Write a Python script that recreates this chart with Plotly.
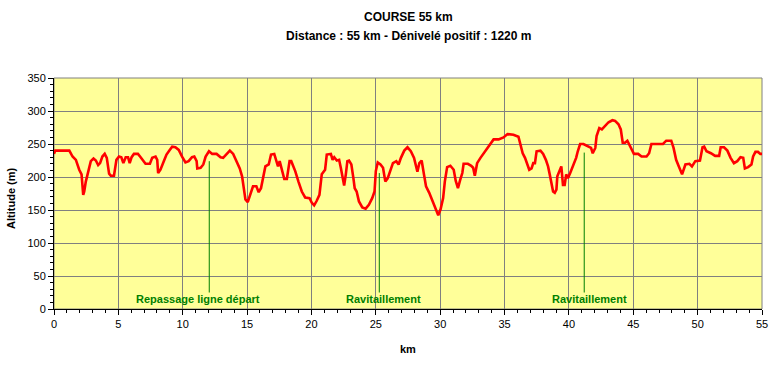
import plotly.graph_objects as go

# ---- data ----
km = [
    0, 0.1, 0.33, 1.19, 1.44, 1.70, 1.96, 2.14, 2.27, 2.35,
    2.47, 2.65, 2.86, 3.07, 3.25, 3.43, 3.58, 3.76, 3.94, 4.10,
    4.28, 4.41, 4.66, 4.85, 5.05, 5.23, 5.39, 5.57, 5.75, 5.88,
    6.03, 6.21, 6.52, 6.73, 7.11, 7.45, 7.63, 7.89, 8.02, 8.09,
    8.27, 8.53, 8.74, 8.99, 9.18, 9.43, 9.69, 9.95, 10.21, 10.46,
    10.72, 10.90,
    11.08, 11.13, 11.39, 11.60, 11.78, 12.04, 12.29, 12.63, 12.94, 13.14,
    13.40, 13.66, 13.92, 14.18, 14.43, 14.61, 14.74, 14.87, 15.05, 15.26,
    15.46, 15.72, 15.90, 16.08, 16.24, 16.42, 16.68, 16.86, 17.11, 17.27,
    17.40, 17.53, 17.71, 17.89, 18.09, 18.30, 18.43, 18.74, 18.99, 19.25,
    19.51, 19.85, 20.03, 20.21, 20.41, 20.62, 20.80, 21.06, 21.19, 21.39,
    21.51, 21.64, 21.77, 21.97, 22.15, 22.28, 22.41, 22.54, 22.67, 22.79,
    22.92, 23.10, 23.26, 23.36, 23.51, 23.69, 23.95, 24.21, 24.46, 24.72,
    24.90, 25.00, 25.15, 25.36, 25.56, 25.74, 25.92, 26.13, 26.33, 26.59,
    26.77, 26.95, 27.21, 27.46, 27.72, 27.97, 28.13, 28.23, 28.38, 28.56,
    28.74, 28.90, 29.15, 29.41, 29.67, 29.85, 30.03, 30.23, 30.36, 30.54,
    30.79, 31.05, 31.21, 31.38, 31.56, 31.72, 31.82, 32.15, 32.41,
    32.56, 32.69, 32.87, 33.13, 33.38, 33.64, 33.90, 34.15, 34.54, 34.92,
    35.23, 35.69, 36.08, 36.26, 36.41, 36.59, 36.77, 36.92, 37.10, 37.23,
    37.36, 37.49, 37.79, 38.00, 38.21, 38.38, 38.51, 38.64, 38.77, 38.90,
    39.03, 39.10, 39.28, 39.41, 39.54, 39.67, 39.79, 39.92, 40.10, 40.31,
    40.56, 40.69, 40.87, 41.13, 41.46, 41.72, 41.85, 42.05, 42.15, 42.36,
    42.56, 42.82, 43.08, 43.38,
    43.59, 43.85, 44.03, 44.18, 44.36, 44.54, 44.69, 44.87, 45.05, 45.38,
    45.64, 46.03, 46.23, 46.41, 46.79, 47.31, 47.56, 47.95, 48.13, 48.33,
    48.54, 48.79, 49.05, 49.36, 49.56, 49.82, 50.18, 50.38, 50.51, 50.69,
    51.03, 51.36, 51.67, 51.79, 52.05, 52.31, 52.56, 52.82, 53.08, 53.33,
    53.54, 53.67, 53.92, 54.18, 54.31, 54.49, 54.69, 54.87, 55.0,
]

altitude = [
    235, 240, 240, 240, 231, 226, 211, 204, 173, 178,
    193, 206, 224, 228, 225, 218, 221, 231, 235, 229,
    205, 202, 202, 226, 231, 230, 221, 230, 230, 221,
    230, 235, 235, 230, 220, 220, 229, 231, 226, 206,
    211, 224, 234, 241, 246, 245, 241, 231, 222, 224,
    230, 231,
    224, 213, 214, 219, 231, 239, 235, 235, 230, 229,
    235, 240, 235, 225, 213, 201, 181, 166, 162, 173,
    186, 186, 177, 183, 201, 216, 219, 234, 235, 224,
    216, 224, 211, 197, 197, 224, 224, 209, 193, 178,
    169, 168, 161, 157, 164, 173, 204, 211, 234, 235,
    235, 226, 230, 225, 226, 214, 198, 187, 204, 224,
    225, 219, 198, 183, 178, 163, 154, 152, 158, 168,
    178, 209, 222, 219, 214, 193, 198, 209, 221, 224,
    219, 229, 240, 245, 239, 229, 218, 208, 221, 225,
    204, 186, 176, 163, 151, 142, 151, 168, 193, 215,
    217, 211, 194, 183, 196, 206, 220, 220, 217,
    214, 202, 221, 229, 236, 244, 252, 257, 257, 260,
    265, 264, 261, 249, 236, 229, 219, 211, 213, 221,
    221, 239, 240, 235, 226, 216, 204, 188, 178, 176,
    181, 201, 209, 216, 188, 188, 204, 198, 206, 216,
    229, 239, 250, 250, 246, 244, 236, 244, 262, 274,
    272, 277, 283, 286,
    285, 280, 272, 252, 252, 255, 249, 241, 235, 235,
    231, 231, 236, 250, 250, 250, 255, 255, 244, 226,
    216, 204, 219, 220, 216, 224, 225, 245, 246, 239,
    236, 232, 232, 245, 245, 240, 229, 221, 224, 230,
    229, 213, 215, 219, 231, 238, 238, 235, 235,
]
assert len(km) == len(altitude)

# points of interest: km, altitude where the marker meets the curve, label
poi_km = [12.06, 25.27, 41.19]
poi_alt = [224, 206, 237]
poi_base = 25
poi_labels = ["Repassage ligne départ", "Ravitaillement", "Ravitaillement"]
poi_label_km = [11.2, 25.6, 41.6]
poi_label_alt = 15

title1 = "COURSE 55 km"
title2 = "Distance : 55 km - Dénivelé positif : 1220 m"

FONT = "Liberation Sans, Arial, sans-serif"
GREEN = "#008000"

fig = go.Figure()

for k, a in zip(poi_km, poi_alt):
    fig.add_trace(go.Scatter(x=[k, k], y=[poi_base, a], mode="lines",
                             line=dict(color=GREEN, width=1),
                             hoverinfo="skip", showlegend=False))

fig.add_trace(go.Scatter(x=km, y=altitude, mode="lines",
                         line=dict(color="#FF0000", width=2.6),
                         showlegend=False))

for t, k in zip(poi_labels, poi_label_km):
    fig.add_annotation(x=k, y=poi_label_alt, xref="x", yref="y", text=f"<b>{t}</b>",
                       showarrow=False, yanchor="middle",
                       font=dict(family=FONT, size=11, color=GREEN))

fig.add_annotation(x=0.5, y=1.262, xref="paper", yref="paper", text=f"<b>{title1}</b>",
                   showarrow=False, yanchor="middle",
                   font=dict(family=FONT, size=12, color="black"))
fig.add_annotation(x=0.5, y=1.183, xref="paper", yref="paper", text=f"<b>{title2}</b>",
                   showarrow=False, yanchor="middle",
                   font=dict(family=FONT, size=12, color="black"))
fig.add_annotation(x=0.5, y=-0.173, xref="paper", yref="paper", text="<b>km</b>",
                   showarrow=False, yanchor="middle",
                   font=dict(family=FONT, size=11, color="black"))
fig.add_annotation(x=-0.061, y=0.48, xref="paper", yref="paper", text="<b>Altitude (m)</b>",
                   textangle=-90, showarrow=False, xanchor="center", yanchor="middle",
                   font=dict(family=FONT, size=11, color="black"))

fig.add_shape(type="rect", xref="paper", yref="paper", x0=0, y0=0, x1=1, y1=1,
              line=dict(color="#808080", width=1), layer="below")

fig.update_layout(
    width=773, height=365,
    margin=dict(l=54, r=11, t=78, b=56, autoexpand=False),
    paper_bgcolor="white",
    plot_bgcolor="#FFFF99",
    font=dict(family=FONT, size=11, color="black"),
    showlegend=False,
    xaxis=dict(range=[0, 55], tick0=0, dtick=5, showgrid=True, gridcolor="#808080", gridwidth=1,
               showline=True, linecolor="black", linewidth=1, ticks="outside", ticklen=5,
               tickcolor="black", zeroline=False, fixedrange=True, automargin=False,
               minor=dict(dtick=1, ticks="outside", ticklen=3, tickcolor="black", showgrid=False)),
    yaxis=dict(range=[0, 350], tick0=0, dtick=50, showgrid=True, gridcolor="#808080", gridwidth=1,
               showline=True, linecolor="black", linewidth=1, ticks="outside", ticklen=5,
               tickcolor="black", zeroline=False, fixedrange=True, automargin=False,
               minor=dict(dtick=10, ticks="outside", ticklen=3, tickcolor="black", showgrid=False)),
)

fig.write_html("out.html", config={"displayModeBar": False},
               post_script="document.body.style.margin='0px';document.body.style.padding='0px';")
